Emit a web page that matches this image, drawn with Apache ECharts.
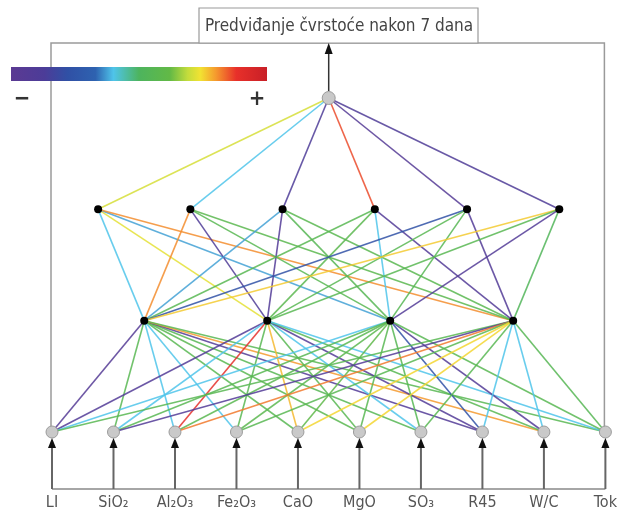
<!DOCTYPE html>
<html><head><meta charset="utf-8">
<script src="https://cdn.jsdelivr.net/npm/echarts@6/dist/echarts.min.js"></script>
<style>html,body{margin:0;padding:0;background:#fff}#c{width:620px;height:512px}</style>
</head><body><div id="c"></div>
<script>
// ---- data ----
const inputLabels = ['LI','SiO₂','Al₂O₃','Fe₂O₃','CaO','MgO','SO₃','R45','W/C','Tok'];
const inputX = [0,1,2,3,4,5,6,7,8,9];
const hidden1X = [1.5,3.5,5.5,7.5];
const hidden2X = [0.75,2.25,3.75,5.25,6.75,8.25];
const outputX = [4.5];
const layerY = [0,1,2,3];
const outputTitle = 'Predviđanje čvrstoće nakon 7 dana';
// connection weights, scale -1 (−) .. +1 (+)
const wOut = [0.42,-0.2,-0.75,0.72,-0.9,-0.8];           // hidden2 -> output
const wH2H1 = [                                           // hidden2[i] <- hidden1[j]
  [-0.2, 0.45,-0.25, 0.62],
  [ 0.62,-0.8, 0.12, 0.15],
  [-0.25,-0.85,0.1, 0.14],
  [ 0.12, 0.15,-0.2,-0.85],
  [-0.55, 0.12,0.1,-0.85],
  [ 0.52, 0.12,-0.85,0.05]
];
const wH1In = [                                           // hidden1[j] <- input[k]
  [-0.9, 0.12,-0.2,-0.2, 0.12, 0.14, 0.1,-0.85, 0.6, 0.12],
  [-0.85,-0.2, 0.78,0.12, 0.55, 0.12,-0.2,-0.85, 0.12,-0.2],
  [-0.2, 0.12, 0.14,0.15, 0.2, 0.12, 0.1,-0.55,-0.85, 0.12],
  [ 0.12,-0.85,0.65,0.12, 0.5, 0.5, 0.12,-0.2,-0.2, 0.1]
];
const colorStops = [
  [0.00,'#5b3a93'],[0.13,'#4c3c98'],[0.22,'#3050a5'],[0.33,'#2e62b0'],
  [0.40,'#4fc4ea'],[0.50,'#4db45e'],[0.62,'#62b946'],[0.69,'#c3dc3c'],
  [0.74,'#f2e232'],[0.80,'#f59a2e'],[0.88,'#e8302a'],[1.00,'#c81f27']
];
// ---- helpers ----
function weightColor(w){
  const t = (w + 1) / 2;
  for (let i = 0; i < colorStops.length - 1; i++) {
    const a = colorStops[i], b = colorStops[i+1];
    if (t >= a[0] && t <= b[0]) {
      return echarts.color.lerp((t - a[0]) / (b[0] - a[0]), [a[1], b[1]]);
    }
  }
  return t < 0 ? colorStops[0][1] : colorStops[colorStops.length-1][1];
}
const FONT = '"DejaVu Sans Condensed","DejaVu Sans",sans-serif';
const nodes = [], links = [];
inputX.forEach((x,k)=>nodes.push({name:'in'+k,value:[x,layerY[0]],symbolSize:12,
  itemStyle:{color:'#c9c9c9',borderColor:'#9c9c9c',borderWidth:1}}));
hidden1X.forEach((x,j)=>nodes.push({name:'h1_'+j,value:[x,layerY[1]],symbolSize:8,itemStyle:{color:'#000'}}));
hidden2X.forEach((x,i)=>nodes.push({name:'h2_'+i,value:[x,layerY[2]],symbolSize:8,itemStyle:{color:'#000'}}));
nodes.push({name:'out',value:[outputX[0],layerY[3]],symbolSize:13,
  itemStyle:{color:'#c9c9c9',borderColor:'#9c9c9c',borderWidth:1}});
wH1In.forEach((row,j)=>row.forEach((w,k)=>links.push({source:'in'+k,target:'h1_'+j,lineStyle:{color:weightColor(w)}})));
wH2H1.forEach((row,i)=>row.forEach((w,j)=>links.push({source:'h1_'+j,target:'h2_'+i,lineStyle:{color:weightColor(w)}})));
wOut.forEach((w,i)=>links.push({source:'h2_'+i,target:'out',lineStyle:{color:weightColor(w)}}));

const chart = echarts.init(document.getElementById('c'), null, {renderer:'canvas'});
chart.setOption({
  animation:false,
  backgroundColor:'#fff',
  grid:{left:52,right:12,top:98,bottom:80},
  xAxis:{type:'value',min:0,max:9,interval:1,splitLine:{show:false},axisLine:{show:false},axisTick:{show:false},
    axisLabel:{margin:63,fontSize:16,color:'#555',fontFamily:FONT,formatter:v=>inputLabels[v]||''}},
  yAxis:{type:'value',min:0,max:3,show:false},
  series:[{type:'graph',coordinateSystem:'cartesian2d',layout:'none',symbol:'circle',
    data:nodes,links:links,label:{show:false},emphasis:{disabled:true},
    lineStyle:{width:1.6,opacity:0.85,curveness:0},z:3}]
});

// ---- decorations aligned with the axes ----
const P = (x,y)=>chart.convertToPixel({gridIndex:0},[x,y]);
const g = [];
const xl = P(inputX[0],0)[0]-1, xr = P(inputX[9],0)[0]-1, yIn = P(0,layerY[0])[1];
const frameTop = 43, baseY = 489;
g.push({type:'polyline',shape:{points:[[xl,yIn],[xl,frameTop],[xr,frameTop],[xr,yIn]]},
  style:{stroke:'#9a9a9a',lineWidth:1.5,fill:null},z:1});
g.push({type:'rect',shape:{x:199,y:8,width:279,height:35},style:{stroke:'#9a9a9a',lineWidth:1.2,fill:'#fff'},z:2});
g.push({type:'text',style:{text:outputTitle,x:339,y:27,align:'center',verticalAlign:'middle',
  font:'17px '+FONT,fill:'#444'},z:3});
const op = P(outputX[0],layerY[3]);
g.push({type:'line',shape:{x1:op[0],y1:op[1]-7,x2:op[0],y2:frameTop+8},style:{stroke:'#333',lineWidth:1.5},z:4});
g.push({type:'polygon',shape:{points:[[op[0],frameTop],[op[0]-4,frameTop+11],[op[0]+4,frameTop+11]]},style:{fill:'#111'},z:4});
g.push({type:'line',shape:{x1:P(0,0)[0],y1:baseY,x2:P(9,0)[0],y2:baseY},style:{stroke:'#888',lineWidth:1.5},z:1});
inputX.forEach(x=>{
  const p = P(x,layerY[0]);
  g.push({type:'line',shape:{x1:p[0],y1:baseY,x2:p[0],y2:p[1]+12},style:{stroke:'#666',lineWidth:2},z:4});
  g.push({type:'polygon',shape:{points:[[p[0],p[1]+6],[p[0]-4,p[1]+16],[p[0]+4,p[1]+16]]},style:{fill:'#111'},z:4});
});
// colour scale
g.push({type:'rect',shape:{x:11,y:67,width:256,height:14},z:5,
  style:{fill:new echarts.graphic.LinearGradient(0,0,1,0,colorStops.map(s=>({offset:s[0],color:s[1]})))}});
g.push({type:'text',style:{text:'−',x:22,y:99,align:'center',verticalAlign:'middle',font:'bold 22px '+FONT,fill:'#333'},z:5});
g.push({type:'text',style:{text:'+',x:257,y:99,align:'center',verticalAlign:'middle',font:'bold 22px '+FONT,fill:'#333'},z:5});
chart.setOption({graphic:g});
</script>
</body></html>
